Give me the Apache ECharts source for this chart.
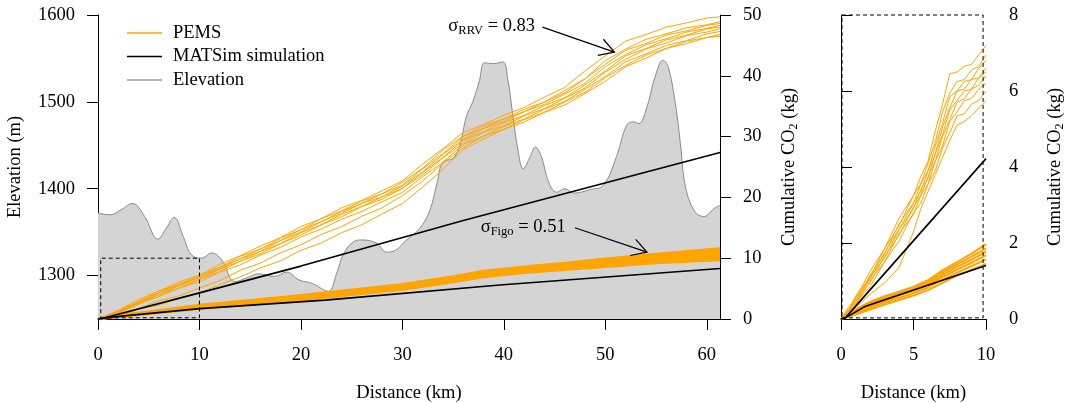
<!DOCTYPE html>
<html>
<head>
<meta charset="utf-8">
<script src="https://cdn.jsdelivr.net/npm/echarts@6/dist/echarts.min.js"></script>
<style>
html,body{margin:0;padding:0;background:#fff;}
#chart{width:1068px;height:403px;}
</style>
</head>
<body>
<div id="chart"></div>
<script>
// ---------------- DATA ----------------
const mainKmTicks = [0, 10, 20, 30, 40, 50, 60];
const elevTicks = [1300, 1400, 1500, 1600];
const co2Ticks = [0, 10, 20, 30, 40, 50];
const insetKmTicks = [0, 5, 10];
const insetCo2Ticks = [0, 2, 4, 6, 8];

const elevKm = [0, 1.2, 2.3, 3.4, 4.6, 5.9, 6.8, 7.5, 8.4, 9.2, 10.2, 11.2, 12.2, 13.5, 14.8, 15.8, 17.4, 18.6, 19.8, 21.1, 22.7, 23.5, 24.2, 25.2, 26.0, 27.5, 28.4, 29.3, 30.4, 31.7, 32.7, 33.4, 34.0, 35.0, 35.7, 36.3, 37.0, 37.6, 38.1, 39.0, 39.9, 40.4, 40.9, 41.4, 41.9, 42.6, 43.1, 43.7, 44.4, 45.2, 46.0, 46.9, 48.5, 49.8, 51.1, 52.1, 52.8, 53.3, 54.1, 54.9, 55.7, 56.2, 56.9, 57.4, 57.9, 58.8, 59.7, 60.7, 61.3];
const elevM = [1372, 1370, 1376, 1383, 1368, 1342, 1356, 1367, 1345, 1324, 1320, 1326, 1318, 1293, 1298, 1302, 1299, 1304, 1295, 1291, 1282, 1302, 1325, 1339, 1341, 1337, 1327, 1329, 1341, 1354, 1375, 1406, 1431, 1435, 1452, 1483, 1502, 1525, 1545, 1544, 1546, 1525, 1483, 1444, 1423, 1437, 1448, 1437, 1408, 1396, 1400, 1395, 1399, 1404, 1437, 1473, 1477, 1475, 1494, 1529, 1548, 1540, 1498, 1452, 1402, 1374, 1368, 1377, 1381];

// PEMS, RRV vehicle (main panel)
const rrvKm = [0, 2, 4, 6, 8, 10, 12, 14, 16, 18, 20, 22, 24, 26, 28, 30, 32, 34, 36, 38, 40, 42, 44, 46, 48, 50, 52, 54, 56, 58, 60, 61.3];
const rrv1 = [0, 1.4, 3.2, 4.6, 6.1, 7.2, 9.0, 10.4, 12.0, 13.4, 15.2, 16.5, 18.3, 19.5, 21.1, 22.7, 25.5, 28.0, 30.7, 32.0, 33.5, 34.8, 36.5, 38.1, 40.8, 43.3, 45.7, 46.8, 48.0, 48.7, 49.5, 49.7];
const rrv2 = [0, 1.4, 2.8, 4.6, 5.7, 7.2, 8.5, 10.3, 11.5, 13.3, 14.7, 16.5, 17.8, 19.4, 20.6, 22.5, 24.8, 27.8, 30.1, 31.8, 32.9, 34.5, 35.7, 37.6, 39.5, 42.5, 44.4, 46.0, 46.9, 47.9, 48.4, 48.9];
const rrv3 = [0, 1.1, 2.9, 4.3, 5.8, 6.8, 8.5, 9.9, 11.5, 12.9, 14.7, 16.0, 17.7, 19.0, 20.6, 22.0, 24.7, 27.2, 30.0, 31.4, 32.9, 34.1, 35.7, 37.2, 39.5, 41.9, 44.2, 45.3, 46.7, 47.4, 48.3, 48.6];
const rrv4 = [0, 1.3, 2.6, 4.3, 5.5, 6.9, 8.2, 9.9, 11.1, 12.9, 14.3, 16.0, 17.4, 19.0, 20.1, 21.9, 24.2, 27.1, 29.5, 31.3, 32.5, 34.1, 35.3, 37.0, 38.8, 41.5, 43.5, 45.1, 46.1, 47.2, 47.8, 48.3];
const rrv5 = [0, 1.0, 2.7, 4.0, 5.5, 6.5, 8.2, 9.5, 11.1, 12.4, 14.2, 15.5, 17.2, 18.5, 20.1, 21.5, 24.1, 26.6, 29.4, 30.8, 32.3, 33.5, 35.1, 36.4, 38.5, 40.8, 43.3, 44.5, 45.9, 46.7, 47.7, 48.0];
const rrv6 = [0, 1.1, 2.4, 4.0, 5.1, 6.5, 7.8, 9.5, 10.7, 12.4, 13.8, 15.5, 16.8, 18.5, 19.7, 21.5, 23.7, 26.5, 28.9, 30.7, 31.8, 33.4, 34.6, 36.3, 38.0, 40.6, 42.7, 44.4, 45.4, 46.6, 47.2, 47.7];
const rrv7 = [0, 0.9, 2.5, 3.7, 5.1, 6.1, 7.7, 8.9, 10.5, 11.8, 13.5, 14.8, 16.4, 17.7, 19.3, 20.8, 23.4, 25.8, 28.7, 30.1, 31.7, 32.9, 34.5, 35.8, 37.8, 39.9, 42.3, 43.6, 45.0, 45.8, 46.9, 47.3];
const rrv8 = [0, 0.7, 1.7, 3.0, 3.8, 5.1, 6.3, 8.0, 9.2, 10.9, 12.2, 13.9, 15.2, 16.9, 18.3, 20.3, 22.7, 25.6, 28.2, 30.1, 31.2, 32.8, 34.0, 35.7, 37.3, 39.7, 41.7, 43.4, 44.5, 45.7, 46.3, 46.8];
const rrv9 = [0, 0.5, 1.6, 2.3, 3.4, 4.2, 5.7, 6.9, 8.4, 9.6, 11.3, 12.5, 14.2, 15.5, 17.3, 19.0, 21.7, 24.6, 27.9, 29.6, 31.2, 32.4, 34.0, 35.2, 37.1, 39.1, 41.5, 42.9, 44.5, 45.3, 46.3, 46.5];

// PEMS, Figo vehicle (main panel)
const figoKm = [0, 2, 5, 10, 15, 20, 25, 30, 35, 38, 42, 46, 50, 55, 61.3];
const figo1 = [0, 0.6, 1.2, 2.3, 3.1, 3.9, 4.8, 5.7, 7.0, 7.9, 8.6, 9.2, 9.9, 10.7, 11.6];
const figo2 = [0, 0.6, 1.1, 2.2, 3.0, 3.8, 4.7, 5.6, 6.9, 7.7, 8.4, 9.0, 9.7, 10.5, 11.3];
const figo3 = [0, 0.5, 1.1, 2.1, 2.9, 3.7, 4.6, 5.5, 6.7, 7.6, 8.3, 8.9, 9.5, 10.3, 11.0];
const figo4 = [0, 0.5, 1.0, 2.0, 2.8, 3.6, 4.5, 5.4, 6.6, 7.5, 8.2, 8.7, 9.3, 10.1, 10.8];
const figo5 = [0, 0.5, 1.0, 2.0, 2.7, 3.5, 4.4, 5.2, 6.5, 7.3, 8.0, 8.6, 9.1, 9.9, 10.5];
const figo6 = [0, 0.5, 1.0, 1.9, 2.6, 3.4, 4.3, 5.1, 6.4, 7.2, 7.9, 8.4, 8.9, 9.7, 10.3];
const figo7 = [0, 0.4, 0.9, 1.8, 2.5, 3.2, 4.1, 5.0, 6.2, 7.1, 7.8, 8.3, 8.8, 9.5, 10.0];
const figo8 = [0, 0.4, 0.9, 1.7, 2.4, 3.1, 4.0, 4.8, 6.1, 6.9, 7.6, 8.1, 8.6, 9.2, 9.7];

// MATSim simulation (main panel)
const simRrvKm = [0, 0.3, 10, 20, 36, 61.3];
const simRrv = [0, 0.03, 4.3, 8.7, 16.2, 27.4];
const simFigoKm = [0, 0.3, 1.6, 10, 22.4, 39.6, 61.3];
const simFigo = [0, 0.03, 0.35, 1.7, 3.1, 5.6, 8.3];

// Inset (first 10 km)
const inKm = [0, 0.5, 1, 2, 3, 4, 5, 5.5, 6, 6.5, 7, 7.5, 8, 8.5, 9, 9.5, 10];
const inRrv1 = [0, 0.3, 0.55, 1.25, 1.85, 2.65, 3.25, 3.75, 4.15, 4.95, 5.65, 6.45, 6.5, 6.65, 6.7, 6.95, 7.2];
const inRrv2 = [0, 0.2, 0.6, 1.1, 1.85, 2.45, 3.25, 3.55, 4.1, 4.65, 5.45, 5.95, 6.25, 6.3, 6.55, 6.65, 6.95];
const inRrv3 = [0, 0.25, 0.45, 1.15, 1.7, 2.5, 3.05, 3.55, 3.9, 4.55, 5.15, 5.85, 6.0, 6.25, 6.3, 6.6, 6.8];
const inRrv4 = [0, 0.15, 0.55, 1.05, 1.75, 2.35, 3.05, 3.35, 3.9, 4.35, 5.05, 5.55, 6.0, 6.05, 6.3, 6.35, 6.6];
const inRrv5 = [0, 0.2, 0.4, 1.1, 1.6, 2.35, 2.9, 3.4, 3.7, 4.35, 4.85, 5.5, 5.75, 6.0, 6.05, 6.35, 6.5];
const inRrv6 = [0, 0.1, 0.5, 0.95, 1.65, 2.2, 2.95, 3.25, 3.75, 4.15, 4.8, 5.25, 5.7, 5.8, 6.05, 6.15, 6.4];
const inRrv7 = [0, 0.2, 0.35, 1.0, 1.5, 2.25, 2.75, 3.25, 3.55, 4.15, 4.55, 5.2, 5.45, 5.75, 5.8, 6.05, 6.2];
const inRrv8 = [0, 0.05, 0.4, 0.85, 1.5, 2.05, 2.8, 3.05, 3.55, 3.9, 4.5, 4.9, 5.35, 5.4, 5.65, 5.75, 6.0];
const inRrv9 = [0, 0.1, 0.3, 0.65, 0.95, 1.35, 2.3, 2.9, 3.35, 3.8, 4.25, 4.7, 5.1, 5.2, 5.35, 5.55, 5.75];

const inFigoKm = [0, 1, 2, 3, 4, 5, 6, 7, 8, 9, 10];
const inFigo1 = [0, 0.25, 0.45, 0.6, 0.72, 0.85, 1.02, 1.28, 1.5, 1.72, 1.97];
const inFigo2 = [0, 0.22, 0.42, 0.57, 0.69, 0.82, 0.98, 1.22, 1.44, 1.64, 1.86];
const inFigo3 = [0, 0.2, 0.38, 0.53, 0.66, 0.78, 0.93, 1.16, 1.37, 1.56, 1.77];
const inFigo4 = [0, 0.18, 0.35, 0.49, 0.62, 0.74, 0.89, 1.1, 1.3, 1.48, 1.68];
const inFigo5 = [0, 0.15, 0.3, 0.44, 0.56, 0.68, 0.83, 1.03, 1.22, 1.39, 1.57];
const inFigo6 = [0, 0.12, 0.25, 0.38, 0.5, 0.62, 0.76, 0.95, 1.15, 1.3, 1.45];

const inSimRrvKm = [0, 0.3, 10];
const inSimRrv = [0, 0.03, 4.22];
const inSimFigoKm = [0, 0.3, 1.6, 10];
const inSimFigo = [0, 0.03, 0.32, 1.41];

// Zoom boxes (km, kg)
const boxMainKm = [0.27, 10, 10, 0.27, 0.27];
const boxMainKg = [0.2, 0.2, 10, 10, 0.2];
const boxInKm = [0.07, 9.8, 9.8, 0.07, 0.07];
const boxInKg = [0.03, 0.03, 8, 8, 0.03];

// Annotations (km, kg)
const annotations = [
  {label: 'σ{sub|RRV} = 0.83', text: [38.8, 48.2], from: [43.8, 48.0], to: [50.9, 43.9]},
  {label: 'σ{sub|Figo} = 0.51', text: [41.9, 15.1], from: [47.0, 15.0], to: [54.1, 11.0]}
];

// ---------------- CHART ----------------
const FONT = '"Liberation Serif", "DejaVu Serif", "Times New Roman", serif';
const FS = 18.5;
const ORANGE = '#FFA500';
const pairs = (xs, ys) => xs.map((x, i) => [x, ys[i]]);

const chart = echarts.init(document.getElementById('chart'), null, {renderer: 'canvas'});

function lineSeries(name, xs, ys, color, width, xi, yi, z) {
  return {
    name: name, type: 'line', xAxisIndex: xi, yAxisIndex: yi,
    data: pairs(xs, ys), symbol: 'none', color: color,
    lineStyle: {color: color, width: width}, z: z, silent: true
  };
}

const series = [];
series.push({
  name: 'Elevation', type: 'line', xAxisIndex: 0, yAxisIndex: 0,
  data: pairs(elevKm, elevM), symbol: 'none', smooth: 0.4, color: '#9a9a9a',
  lineStyle: {color: '#8a8a8a', width: 1}, areaStyle: {color: '#d4d4d4', opacity: 1, origin: 'start'}, z: 1
});
[rrv1, rrv2, rrv3, rrv4, rrv5, rrv6, rrv7, rrv8, rrv9].forEach(r => series.push(lineSeries('PEMS', rrvKm, r, ORANGE, 1, 0, 1, 2)));
[figo1, figo2, figo3, figo4, figo5, figo6, figo7, figo8].forEach(r => series.push(lineSeries('PEMS', figoKm, r, ORANGE, 2.5, 0, 1, 2)));
series.push(lineSeries('MATSim simulation', simRrvKm, simRrv, '#000', 1.6, 0, 1, 3));
series.push(lineSeries('MATSim simulation', simFigoKm, simFigo, '#000', 1.6, 0, 1, 3));
[inRrv1, inRrv2, inRrv3, inRrv4, inRrv5, inRrv6, inRrv7, inRrv8, inRrv9].forEach(r => series.push(lineSeries('PEMS', inKm, r, ORANGE, 1, 1, 2, 2)));
[inFigo1, inFigo2, inFigo3, inFigo4, inFigo5, inFigo6].forEach(r => series.push(lineSeries('PEMS', inFigoKm, r, ORANGE, 2, 1, 2, 2)));
series.push(lineSeries('MATSim simulation', inSimRrvKm, inSimRrv, '#000', 1.6, 1, 2, 3));
series.push(lineSeries('MATSim simulation', inSimFigoKm, inSimFigo, '#000', 1.6, 1, 2, 3));
const boxMain = lineSeries('box', boxMainKm, boxMainKg, '#000', 1, 0, 1, 4);
boxMain.lineStyle.type = [4, 3]; boxMain.clip = false; series.push(boxMain);
const boxIn = lineSeries('box', boxInKm, boxInKg, '#000', 1, 1, 2, 4);
boxIn.lineStyle.type = [4, 3]; boxIn.clip = false; series.push(boxIn);

const axisCommon = {
  axisLine: {show: true, lineStyle: {color: '#000', width: 1}},
  splitLine: {show: false},
  nameTextStyle: {fontSize: FS, color: '#000', fontFamily: FONT, lineHeight: 22,
    rich: {sub: {fontSize: 12, lineHeight: 12, verticalAlign: 'bottom', fontFamily: FONT, color: '#000'}}},
};
const fmt = v => String(v);
function xAx(grid, min, max, ticks) {
  return Object.assign({}, axisCommon, {
    gridIndex: grid, type: 'value', min: min, max: max,
    name: 'Distance (km)', nameLocation: 'middle', nameGap: 63,
    axisTick: {show: true, inside: false, length: 11, customValues: ticks, lineStyle: {color: '#000', width: 1}},
    axisLabel: {customValues: ticks, formatter: fmt, margin: 27, fontSize: FS, color: '#000', fontFamily: FONT}
  });
}
function yAx(grid, pos, min, max, ticks, name, gap) {
  return Object.assign({}, axisCommon, {
    gridIndex: grid, type: 'value', position: pos, min: min, max: max,
    name: name, nameLocation: 'middle', nameGap: gap, nameRotate: 90,
    axisTick: {show: true, inside: false, length: 11, customValues: ticks, lineStyle: {color: '#000', width: 1}},
    axisLabel: {customValues: ticks, formatter: fmt, margin: 23, fontSize: FS, color: '#000', fontFamily: FONT}
  });
}

const option = {
  animation: false,
  backgroundColor: '#fff',
  textStyle: {fontFamily: FONT},
  grid: [
    {left: 98, right: 348, top: 15, bottom: 84, containLabel: false, outerBoundsMode: 'none'},
    {left: 841, right: 82, top: 15, bottom: 84, containLabel: false, outerBoundsMode: 'none'}
  ],
  xAxis: [xAx(0, 0, 61.3, mainKmTicks), xAx(1, 0, 10, insetKmTicks)],
  yAxis: [
    yAx(0, 'left', 1250, 1600, elevTicks, 'Elevation (m)', 72),
    yAx(0, 'right', 0, 50, co2Ticks, 'Cumulative CO{sub|2} (kg)', 58),
    yAx(1, 'right', 0, 8, insetCo2Ticks, 'Cumulative CO{sub|2} (kg)', 58)
  ],
  legend: {
    data: ['PEMS', 'MATSim simulation', 'Elevation'],
    orient: 'vertical', left: 122, top: 18, icon: 'rect', itemWidth: 35, itemHeight: 1.6,
    itemGap: 3.5, selectedMode: false,
    textStyle: {fontSize: FS, color: '#000', fontFamily: FONT, lineHeight: 20, padding: [0, 0, 0, 6]}
  },
  series: series
};
chart.setOption(option);

// annotations with open arrowheads, positioned via axis scales
const g = [];
annotations.forEach(a => {
  const t = chart.convertToPixel({xAxisIndex: 0, yAxisIndex: 1}, a.text);
  const s = chart.convertToPixel({xAxisIndex: 0, yAxisIndex: 1}, a.from);
  const e = chart.convertToPixel({xAxisIndex: 0, yAxisIndex: 1}, a.to);
  g.push({type: 'text', x: t[0], y: t[1], z: 10, style: {
    text: a.label, fill: '#000', fontSize: FS, fontFamily: FONT, lineHeight: 22,
    align: 'center', verticalAlign: 'middle',
    rich: {sub: {fontSize: 12.5, lineHeight: 12.5, verticalAlign: 'bottom', fontFamily: FONT, fill: '#000'}}
  }});
  g.push({type: 'line', z: 10, shape: {x1: s[0], y1: s[1], x2: e[0], y2: e[1]}, style: {stroke: '#000', lineWidth: 1.2}});
  const ang = Math.atan2(s[1] - e[1], s[0] - e[0]);
  const L = 17, da = 30 * Math.PI / 180;
  const p1 = [e[0] + L * Math.cos(ang + da), e[1] + L * Math.sin(ang + da)];
  const p2 = [e[0] + L * Math.cos(ang - da), e[1] + L * Math.sin(ang - da)];
  g.push({type: 'polyline', z: 10, shape: {points: [p1, e, p2]}, style: {stroke: '#000', lineWidth: 1.2, fill: null}});
});
chart.setOption({graphic: g});
</script>
</body>
</html>
